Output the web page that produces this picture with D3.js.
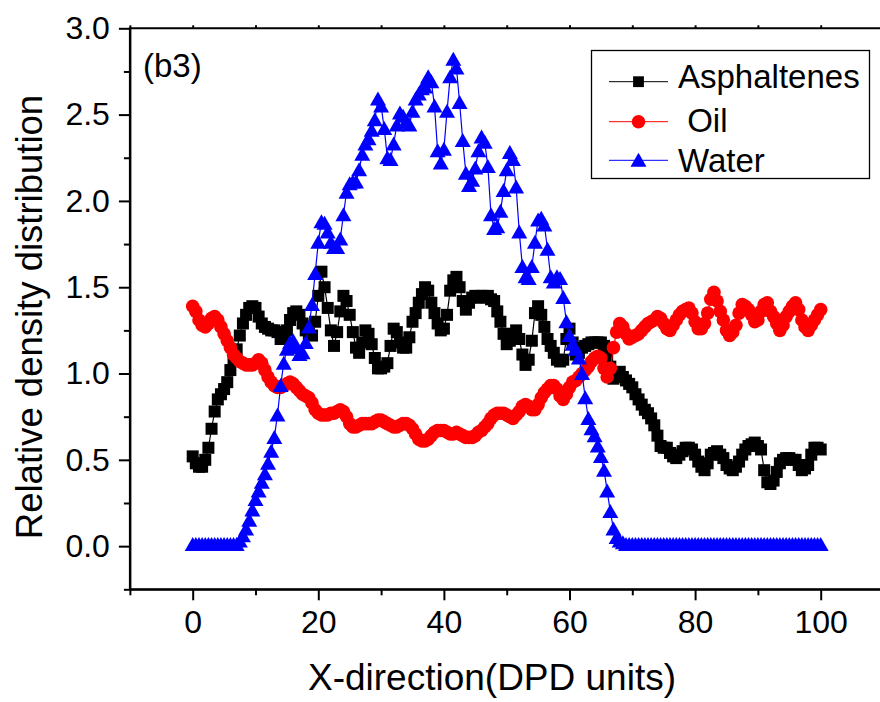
<!DOCTYPE html>
<html>
<head>
<meta charset="utf-8">
<script src="https://cdn.jsdelivr.net/npm/d3@7"></script>
<style>
  body { margin: 0; background: #fff; }
  svg { display: block; }
  text { font-family: "Liberation Sans", Arial, Helvetica, sans-serif; }
</style>
</head>
<body>
<div id="chart"></div>
<script>
// samples every 0.5 DPD units, x = 0 .. 100
const xStep = 0.5;

const asphaltenes = [
  0.52,0.48,0.46,0.46,0.50,0.57,0.68,0.78,0.85,0.88,
  0.91,0.95,1.02,1.08,1.14,1.22,1.29,1.34,1.38,1.39,
  1.38,1.33,1.29,1.27,1.26,1.25,1.25,1.24,1.20,1.20,
  1.25,1.31,1.35,1.36,1.34,1.29,1.25,1.23,1.22,1.30,
  1.45,1.59,1.50,1.38,1.25,1.16,1.24,1.36,1.45,1.42,
  1.34,1.24,1.15,1.12,1.18,1.25,1.23,1.17,1.09,1.03,
  1.03,1.04,1.06,1.16,1.26,1.24,1.18,1.15,1.15,1.21,
  1.30,1.35,1.41,1.46,1.50,1.48,1.41,1.35,1.29,1.25,
  1.26,1.34,1.48,1.54,1.56,1.50,1.42,1.37,1.41,1.44,
  1.45,1.44,1.45,1.44,1.45,1.43,1.42,1.36,1.30,1.23,
  1.17,1.19,1.23,1.25,1.20,1.11,1.05,1.08,1.19,1.35,
  1.39,1.34,1.27,1.20,1.16,1.12,1.08,1.07,1.08,1.20,
  1.26,1.18,1.11,1.12,1.15,1.16,1.17,1.18,1.18,1.18,
  1.18,1.16,1.10,1.04,0.97,0.99,1.01,0.98,0.96,0.94,
  0.92,0.88,0.85,0.82,0.79,0.77,0.74,0.70,0.64,0.58,
  0.57,0.57,0.54,0.52,0.51,0.53,0.55,0.57,0.57,0.56,
  0.53,0.49,0.46,0.44,0.48,0.53,0.54,0.55,0.53,0.51,
  0.47,0.45,0.44,0.46,0.49,0.53,0.56,0.58,0.59,0.60,
  0.58,0.56,0.44,0.37,0.36,0.38,0.43,0.48,0.50,0.51,
  0.51,0.50,0.50,0.47,0.44,0.45,0.47,0.53,0.57,0.57,
  0.56
];

const oil = [
  1.39,1.36,1.31,1.28,1.27,1.29,1.32,1.33,1.31,1.27,
  1.23,1.19,1.15,1.11,1.09,1.07,1.06,1.05,1.05,1.05,
  1.06,1.08,1.06,1.02,0.98,0.95,0.93,0.92,0.92,0.93,
  0.94,0.95,0.94,0.92,0.90,0.88,0.87,0.86,0.83,0.79,
  0.77,0.76,0.76,0.76,0.77,0.77,0.78,0.79,0.78,0.75,
  0.71,0.69,0.69,0.70,0.71,0.71,0.71,0.71,0.72,0.73,
  0.73,0.72,0.71,0.70,0.69,0.69,0.70,0.71,0.71,0.70,
  0.68,0.65,0.62,0.61,0.61,0.62,0.64,0.66,0.67,0.67,
  0.67,0.66,0.65,0.65,0.66,0.65,0.64,0.63,0.63,0.63,
  0.64,0.66,0.67,0.69,0.71,0.74,0.76,0.77,0.77,0.77,
  0.76,0.75,0.74,0.76,0.78,0.81,0.82,0.81,0.79,0.79,
  0.82,0.86,0.89,0.91,0.93,0.93,0.91,0.87,0.85,0.88,
  0.92,0.95,0.96,0.98,1.00,1.02,1.04,1.07,1.09,1.10,
  1.09,1.03,0.98,1.03,1.15,1.24,1.29,1.27,1.23,1.20,
  1.21,1.22,1.23,1.25,1.27,1.29,1.30,1.31,1.33,1.32,
  1.29,1.26,1.25,1.28,1.31,1.34,1.36,1.37,1.38,1.35,
  1.30,1.26,1.26,1.29,1.35,1.43,1.47,1.42,1.36,1.31,
  1.25,1.22,1.24,1.28,1.35,1.40,1.39,1.37,1.34,1.30,
  1.31,1.36,1.40,1.41,1.36,1.33,1.29,1.25,1.28,1.33,
  1.36,1.39,1.41,1.37,1.31,1.27,1.25,1.28,1.31,1.34,
  1.37
];

const water = [
  0.01,0.01,0.01,0.01,0.01,0.01,0.01,0.01,0.01,0.01,
  0.01,0.01,0.01,0.01,0.01,0.03,0.06,0.10,0.15,0.21,
  0.27,0.32,0.37,0.42,0.48,0.55,0.63,0.76,0.93,1.06,
  1.14,1.18,1.19,1.15,1.11,1.12,1.18,1.27,1.40,1.58,
  1.76,1.88,1.87,1.82,1.76,1.73,1.73,1.78,1.92,2.05,
  2.10,2.11,2.11,2.18,2.27,2.33,2.36,2.41,2.47,2.59,
  2.55,2.42,2.25,2.24,2.33,2.44,2.51,2.49,2.46,2.44,
  2.52,2.59,2.62,2.65,2.66,2.72,2.69,2.55,2.29,2.22,
  2.30,2.52,2.72,2.82,2.77,2.57,2.35,2.16,2.09,2.12,
  2.19,2.29,2.37,2.34,2.20,1.92,1.84,1.85,1.94,2.06,
  2.18,2.28,2.24,2.08,1.82,1.62,1.56,1.55,1.62,1.76,
  1.89,1.90,1.86,1.72,1.56,1.53,1.56,1.55,1.44,1.30,
  1.22,1.17,1.14,1.09,1.00,0.86,0.74,0.68,0.64,0.58,
  0.52,0.44,0.32,0.20,0.10,0.05,0.03,0.02,0.01,0.01,
  0.01,0.01,0.01,0.01,0.01,0.01,0.01,0.01,0.01,0.01,
  0.01,0.01,0.01,0.01,0.01,0.01,0.01,0.01,0.01,0.01,
  0.01,0.01,0.01,0.01,0.01,0.01,0.01,0.01,0.01,0.01,
  0.01,0.01,0.01,0.01,0.01,0.01,0.01,0.01,0.01,0.01,
  0.01,0.01,0.01,0.01,0.01,0.01,0.01,0.01,0.01,0.01,
  0.01,0.01,0.01,0.01,0.01,0.01,0.01,0.01,0.01,0.01,
  0.01
];

const xTicks = [0, 20, 40, 60, 80, 100];
const xMinor = [-10, 10, 30, 50, 70, 90, 110];
const yTicks = [0, 0.5, 1.0, 1.5, 2.0, 2.5, 3.0];
const yMinor = [-0.25, 0.25, 0.75, 1.25, 1.75, 2.25, 2.75];
const seriesNames = ["Asphaltenes", " Oil", "Water"];
const seriesColors = ["#000000", "#ff0000", "#0000ff"];

const width = 880, height = 702;
const font = '"Liberation Sans", Arial, Helvetica, sans-serif';

const svg = d3.select('#chart')
  .append('svg')
    .attr('width', width)
    .attr('height', height);

const x = d3.scaleLinear().domain([-10, 110]).range([129.9, 883.5]);
const y = d3.scaleLinear().domain([-0.25, 3.0]).range([589.3, 28.3]);

// frame lines (top + left + bottom; right edge sits off the canvas)
svg.append('path')
  .attr('d', `M${x(-10)},${y(-0.25)}V${y(3)}H${x(110)}V${y(-0.25)}Z`)
  .attr('fill', 'none')
  .attr('stroke', '#000')
  .attr('stroke-width', 2);

// bottom axis
const gx = svg.append('g')
  .attr('transform', `translate(0,${y(-0.25)})`)
  .call(d3.axisBottom(x).tickValues(xTicks).tickSize(11).tickPadding(10).tickSizeOuter(0));
svg.append('g')
  .attr('transform', `translate(0,${y(-0.25)})`)
  .call(d3.axisBottom(x).tickValues(xMinor).tickSize(6).tickFormat('').tickSizeOuter(0))
  .call(g => g.select('.domain').remove());

// left axis
const gy = svg.append('g')
  .attr('transform', `translate(${x(-10)},0)`)
  .call(d3.axisLeft(y).tickValues(yTicks).tickSize(11).tickPadding(9).tickSizeOuter(0).tickFormat(d3.format('.1f')));
svg.append('g')
  .attr('transform', `translate(${x(-10)},0)`)
  .call(d3.axisLeft(y).tickValues(yMinor).tickSize(6).tickFormat('').tickSizeOuter(0))
  .call(g => g.select('.domain').remove());

// small ticks on top edge
svg.append('g')
  .attr('transform', `translate(0,${y(3)})`)
  .call(d3.axisTop(x).tickValues(d3.range(-10, 111, 10)).tickSize(3).tickFormat('').tickSizeOuter(0))
  .call(g => g.select('.domain').remove());

svg.selectAll('.tick line').attr('stroke', '#000').attr('stroke-width', 2);
svg.selectAll('.domain').attr('stroke', '#000').attr('stroke-width', 2);
[gx, gy].forEach(g => g.selectAll('text')
  .attr('font-size', 32)
  .attr('font-family', font)
  .attr('fill', '#000'));

// axis titles
svg.append('text')
  .attr('x', 492).attr('y', 690)
  .attr('text-anchor', 'middle')
  .attr('font-size', 37)
  .text('X-direction(DPD units)');

svg.append('text')
  .attr('transform', 'translate(42,317) rotate(-90)')
  .attr('text-anchor', 'middle')
  .attr('font-size', 36.5)
  .text('Relative density distribution');

svg.append('text')
  .attr('x', 143).attr('y', 77)
  .attr('font-size', 33)
  .text('(b3)');

// series
const series = [asphaltenes, oil, water];
const line = d3.line()
  .x((d, i) => x(i * xStep))
  .y(d => y(d));

function drawMarker(g, kind, color, s) {
  if (kind === 0) {
    g.append('rect').attr('x', -6 * s).attr('y', -6 * s).attr('width', 12 * s).attr('height', 12 * s).attr('fill', color);
  } else if (kind === 1) {
    g.append('circle').attr('r', 6.8 * s).attr('fill', color);
  } else {
    g.append('path').attr('d', `M0,${-7.5 * s}L${8 * s},${6.5 * s}L${-8 * s},${6.5 * s}Z`).attr('fill', color);
  }
}

series.forEach((vals, k) => {
  const g = svg.append('g');
  g.append('path')
    .datum(vals)
    .attr('d', line)
    .attr('fill', 'none')
    .attr('stroke', seriesColors[k])
    .attr('stroke-width', 1.2);
  g.selectAll('g.pt')
    .data(vals)
    .enter()
    .append('g')
      .attr('class', 'pt')
      .attr('transform', (d, i) => `translate(${x(i * xStep)},${y(d)})`)
      .each(function() { drawMarker(d3.select(this), k, seriesColors[k], 1); });
});

// legend
const legend = svg.append('g');
legend.append('rect')
  .attr('x', 591.5).attr('y', 50.5)
  .attr('width', 278).attr('height', 128)
  .attr('fill', '#fff')
  .attr('stroke', '#000')
  .attr('stroke-width', 1.3);

const rowMarkY = [81.7, 121.7, 160.3];
const rowTextY = [88.3, 131.7, 171.7];
seriesNames.forEach((name, k) => {
  legend.append('line')
    .attr('x1', 609).attr('x2', 668)
    .attr('y1', rowMarkY[k]).attr('y2', rowMarkY[k])
    .attr('stroke', seriesColors[k])
    .attr('stroke-width', 1);
  const m = legend.append('g').attr('transform', `translate(638.5,${rowMarkY[k]})`);
  drawMarker(m, k, seriesColors[k], k === 0 ? 0.9 : 1);
  legend.append('text')
    .attr('x', 678).attr('y', rowTextY[k])
    .attr('font-size', 33)
    .style('white-space', 'pre')
    .text(name);
});
</script>
</body>
</html>
